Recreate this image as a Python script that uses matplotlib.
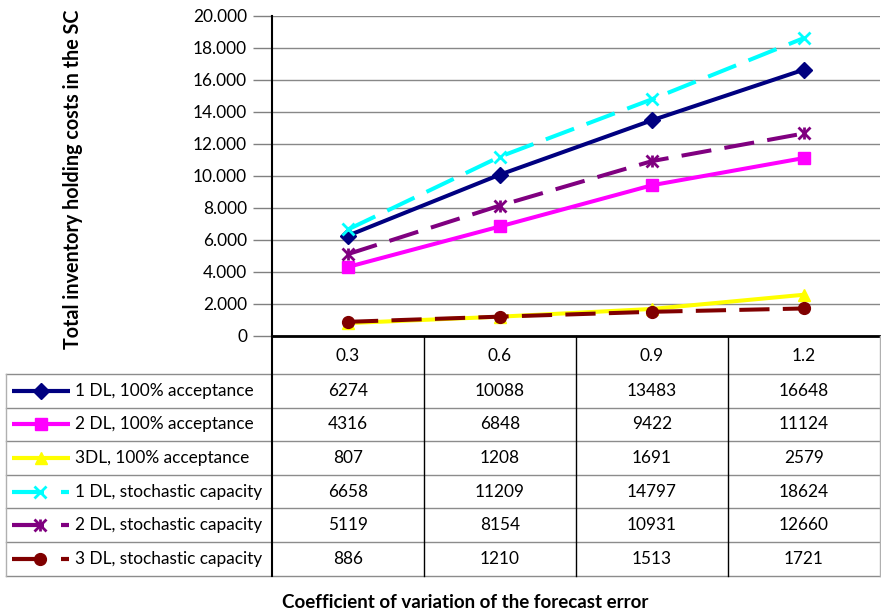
import matplotlib
matplotlib.use("Agg")
import matplotlib.pyplot as plt
from matplotlib.ticker import FuncFormatter

plt.rcParams['font.family'] = ['Lato', 'DejaVu Sans']

# Forecast-error coefficient of variation (columns of the data table)
categories = ["0.3", "0.6", "0.9", "1.2"]

series_names = [
    "1 DL, 100% acceptance",
    "2 DL, 100% acceptance",
    "3DL, 100% acceptance",
    "1 DL, stochastic capacity",
    "2 DL, stochastic capacity",
    "3 DL, stochastic capacity",
]
dl1_accept = [6274, 10088, 13483, 16648]
dl2_accept = [4316, 6848, 9422, 11124]
dl3_accept = [807, 1208, 1691, 2579]
dl1_stoch = [6658, 11209, 14797, 18624]
dl2_stoch = [5119, 8154, 10931, 12660]
dl3_stoch = [886, 1210, 1513, 1721]
series_values = [dl1_accept, dl2_accept, dl3_accept, dl1_stoch, dl2_stoch, dl3_stoch]

colors = ["#000080", "#FF00FF", "#FFFF00", "#00FFFF", "#800080", "#800000"]
markers = ["D", "s", "^", "x", "X", "o"]
dashed = [False, False, False, True, True, True]

FS = 12.4

W, H = 881, 614
fig = plt.figure(figsize=(W / 100, H / 100), dpi=100)

# plot area in pixel geometry
px_left, px_right, px_top, px_zero = 272, 880, 16, 336
ax = fig.add_axes([px_left / W, 1 - px_zero / H, (px_right - px_left) / W, (px_zero - px_top) / H])

x = list(range(len(categories)))
dash_style = (0, (7.5, 3.3))


def draw_marker(a, xs, ys, m, c, size, **kw):
    if m == "X":
        # asterisk-like marker: an x with a vertical bar
        a.plot(xs, ys, linestyle="none", marker="x", markersize=size, markeredgewidth=2, color=c, **kw)
        a.plot(xs, ys, linestyle="none", marker="|", markersize=size, markeredgewidth=2, color=c, **kw)
    elif m == "x":
        a.plot(xs, ys, linestyle="none", marker="x", markersize=size, markeredgewidth=2, color=c, **kw)
    else:
        ms = size * (0.95 if m == "D" else 1.0)
        a.plot(xs, ys, linestyle="none", marker=m, markersize=ms, color=c, markeredgecolor=c, **kw)


order = [2, 1, 0, 4, 3, 5]
for i in order:
    vals = series_values[i]
    ls = dash_style if dashed[i] else "-"
    ax.plot(x, vals, color=colors[i], linewidth=2.9, linestyle=ls, solid_capstyle="butt",
            dash_capstyle="butt", zorder=3 + i * 0.1)
    draw_marker(ax, x, vals, markers[i], colors[i], 8.5, zorder=4 + i * 0.1)

ax.set_xlim(-0.5, len(categories) - 0.5)
ax.set_ylim(0, 20000)
ax.set_yticks(range(0, 20001, 2000))
ax.yaxis.set_major_formatter(FuncFormatter(lambda v, p: "0" if v == 0 else f"{int(v):,}".replace(",", ".")))
ax.tick_params(axis="y", length=14, width=1, color="#808080", labelsize=FS, pad=4)
ax.set_xticks([])
ax.grid(axis="y", color="#888888", linewidth=1)
ax.set_axisbelow(True)
for side in ["top", "right"]:
    ax.spines[side].set_visible(False)
ax.spines["left"].set_linewidth(1.5)
ax.spines["left"].set_color("black")
ax.spines["bottom"].set_linewidth(2)
ax.spines["bottom"].set_color("black")

# data table below the plot, drawn in pixel coordinates
tab = fig.add_axes([0, 0, 1, 1])
tab.set_xlim(0, W)
tab.set_ylim(H, 0)
tab.axis("off")

col_w = (px_right - px_left) / len(categories)
col_edges = [px_left + k * col_w for k in range(len(categories) + 1)]
header_bottom = 374
row_h = 33.6
row_edges = [header_bottom + k * row_h for k in range(len(series_names) + 1)]
table_left = 6

# header row: category labels
for k, c in enumerate(categories):
    tab.text(col_edges[k] + col_w / 2, (px_zero + header_bottom) / 2 + 1, c,
             ha="center", va="center", fontsize=FS)

# grid lines of the table
for yb in row_edges:
    tab.plot([table_left, px_right], [yb, yb], color="#8c8c8c", linewidth=1)
tab.plot([table_left, table_left], [row_edges[0], row_edges[-1]], color="#b0b0b0", linewidth=1)
tab.plot([px_left, px_left], [px_zero, row_edges[-1]], color="black", linewidth=1.5)
for xe in col_edges[1:-1]:
    tab.plot([xe, xe], [px_zero, row_edges[-1]], color="black", linewidth=1)
tab.plot([px_right, px_right], [px_zero, row_edges[-1]], color="#b0b0b0", linewidth=1)

# rows: legend key, series name and values
for i, name in enumerate(series_names):
    yc = row_edges[i] + row_h / 2
    c = colors[i]
    if dashed[i]:
        tab.plot([12, 44], [yc, yc], color=c, linewidth=3, solid_capstyle="butt")
        tab.plot([61, 69], [yc, yc], color=c, linewidth=3, solid_capstyle="butt")
        draw_marker(tab, [40], [yc], markers[i], c, 8.5)
    else:
        tab.plot([12, 70], [yc, yc], color=c, linewidth=3, solid_capstyle="butt")
        draw_marker(tab, [41], [yc], markers[i], c, 8.5)
    tab.text(75, yc, name, ha="left", va="center", fontsize=FS)
    for k, v in enumerate(series_values[i]):
        tab.text(col_edges[k] + col_w / 2, yc, str(v), ha="center", va="center", fontsize=FS)

# axis titles
tab.text(465, 602, "Coefficient of variation of the forecast error", ha="center", va="center",
         fontsize=13.5, fontweight="bold")
tab.text(73, 179, "Total inventory holding costs in the SC", ha="center", va="center",
         rotation=90, fontsize=14.2, fontweight="bold")

fig.savefig("out.png", dpi=100)
